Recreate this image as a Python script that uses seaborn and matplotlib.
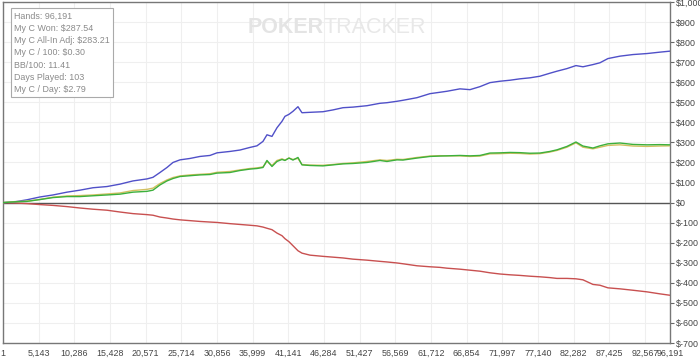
import matplotlib
matplotlib.use("Agg")
import matplotlib.pyplot as plt
import seaborn as sns
import pandas as pd

hands = [1, 1730, 3461, 5335, 7210, 9229, 11103, 12978, 14997, 16871, 18746, 20765,
         21630, 22639, 23649, 24514, 25523, 26965, 28407, 29849, 30859, 32733, 34175,
         35617, 36627, 37492, 38069, 38790, 39511, 40232, 40664, 41241, 41818, 42539,
         43116, 44270, 46144, 47586, 49028, 50470, 52489, 54363, 55373, 56815, 57680,
         59699, 61573, 63015, 64025, 65899, 67341, 68783, 70225, 71667, 73109, 74551,
         75993, 77435, 78877, 79887, 81329, 82627, 83636, 85078, 86087, 87241, 88971,
         90846, 92865, 94739, 96191]

blue_vals = [0, 4, 14, 28, 38, 52, 62, 74, 80, 92, 108, 118, 126, 150, 175, 200, 213,
             220, 230, 235, 248, 255, 262, 275, 283, 305, 338, 330, 373, 405, 430, 440,
             455, 478, 448, 450, 453, 462, 473, 476, 483, 495, 498, 505, 510, 523, 543,
             550, 555, 567, 563, 578, 598, 605, 610, 617, 622, 630, 645, 655, 668, 683,
             677, 688, 697, 718, 730, 738, 743, 750, 755]

won_vals = [0, 4, 6, 15, 25, 30, 30, 34, 38, 42, 52, 56, 62, 88, 108, 120, 130, 134,
            138, 140, 147, 150, 160, 167, 170, 175, 210, 180, 205, 215, 210, 222, 212,
            225, 188, 185, 183, 188, 193, 195, 200, 210, 205, 213, 212, 222, 230, 232,
            233, 235, 233, 235, 247, 248, 250, 249, 246, 247, 255, 263, 280, 302, 282,
            272, 283, 293, 297, 290, 288, 289, 288]

adj_vals = [0, 5, 7, 16, 27, 33, 35, 38, 43, 48, 60, 66, 72, 95, 113, 125, 133, 138,
            141, 144, 151, 155, 163, 170, 173, 178, 205, 185, 210, 218, 212, 222, 215,
            220, 190, 187, 186, 190, 195, 198, 205, 213, 210, 216, 215, 225, 232, 234,
            233, 233, 230, 232, 243, 244, 246, 245, 242, 244, 252, 260, 276, 298, 276,
            268, 276, 285, 288, 282, 280, 282, 283]

red_vals = [0, -2, -5, -10, -14, -20, -27, -33, -38, -47, -55, -60, -63, -72, -77, -82,
            -86, -90, -94, -97, -99, -105, -109, -113, -116, -122, -128, -135, -152, -165,
            -180, -195, -215, -240, -252, -262, -268, -272, -276, -282, -287, -293, -296,
            -301, -305, -315, -320, -323, -327, -332, -337, -342, -350, -356, -360, -363,
            -367, -370, -374, -378, -378, -380, -385, -408, -412, -425, -430, -437, -445,
            -455, -462]

x_ticks = [1, 5143, 10286, 15428, 20571, 25714, 30856, 35999, 41141, 46284, 51427,
           56569, 61712, 66854, 71997, 77140, 82282, 87425, 92567, 96191]
y_ticks = list(range(-700, 1001, 100))

stats_lines = ["Hands: 96,191", "My C Won: $287.54", "My C All-In Adj: $283.21",
               "My C / 100: $0.30", "BB/100: 11.41", "Days Played: 103",
               "My C / Day: $2.79"]

series_names = ["red", "blue", "adj", "won"]
series_vals = [red_vals, blue_vals, adj_vals, won_vals]
df = pd.concat([pd.DataFrame({"hands": hands, "value": v, "series": n})
                for n, v in zip(series_names, series_vals)], ignore_index=True)
palette = {"red": "#c85050", "blue": "#5050c8", "adj": "#d2c060", "won": "#3cb03c"}

sns.set_style("white")
plt.rcParams["font.family"] = ["Liberation Sans", "DejaVu Sans"]

fig = plt.figure(figsize=(7, 3.6), dpi=100)
ax = fig.add_axes([3 / 700, 17 / 360, 667 / 700, 341 / 360])

# grid
for xt in x_ticks:
    ax.axvline(xt, color="#efefef", lw=0.8, zorder=0)
for yt in y_ticks:
    ax.axhline(yt, color="#efefef", lw=0.8, zorder=0)

# watermark
ax.text(0.367, 0.925, "POKER", transform=ax.transAxes, fontsize=15.5, fontweight="bold",
        color="#e4e4e4", ha="left", va="center", zorder=0)
ax.text(0.481, 0.925, "TRACKER", transform=ax.transAxes, fontsize=15.5,
        color="#e8e8e8", ha="left", va="center", zorder=0)

ax.axhline(0, color="#555555", lw=1.0, zorder=1)

sns.lineplot(data=df, x="hands", y="value", hue="series", palette=palette,
             hue_order=series_names, linewidth=1.0, legend=False, ax=ax, zorder=3)

ax.set_xlim(1, 96191)
ax.set_ylim(-700, 1000)
ax.set_xlabel("")
ax.set_ylabel("")

ax.set_xticks(x_ticks)
ax.set_xticklabels([f"{v:,}" for v in x_ticks])
ax.yaxis.tick_right()
ax.set_yticks(y_ticks)
ax.set_yticklabels([f"${v:,}" for v in y_ticks])
ax.tick_params(axis="both", labelsize=6.4, colors="#666666", labelcolor="#444444",
               length=3, width=0.8, direction="out", pad=1)
for side in ["left", "right", "top", "bottom"]:
    ax.spines[side].set_visible(True)
    ax.spines[side].set_color("#777777")
    ax.spines[side].set_linewidth(1.0)

# stats box
box_text = "\n".join(stats_lines)
ax.text(11 / 667, 0.972, box_text, transform=ax.transAxes, fontsize=6.4,
        family=["Liberation Sans Narrow", "Liberation Sans", "DejaVu Sans"],
        color="#8a8a8a", ha="left", va="top", linespacing=1.47,
        bbox=dict(boxstyle="square,pad=0.35", facecolor="white",
                  edgecolor="#aaaaaa", linewidth=0.8), zorder=5)

fig.savefig("out.png", dpi=100)
